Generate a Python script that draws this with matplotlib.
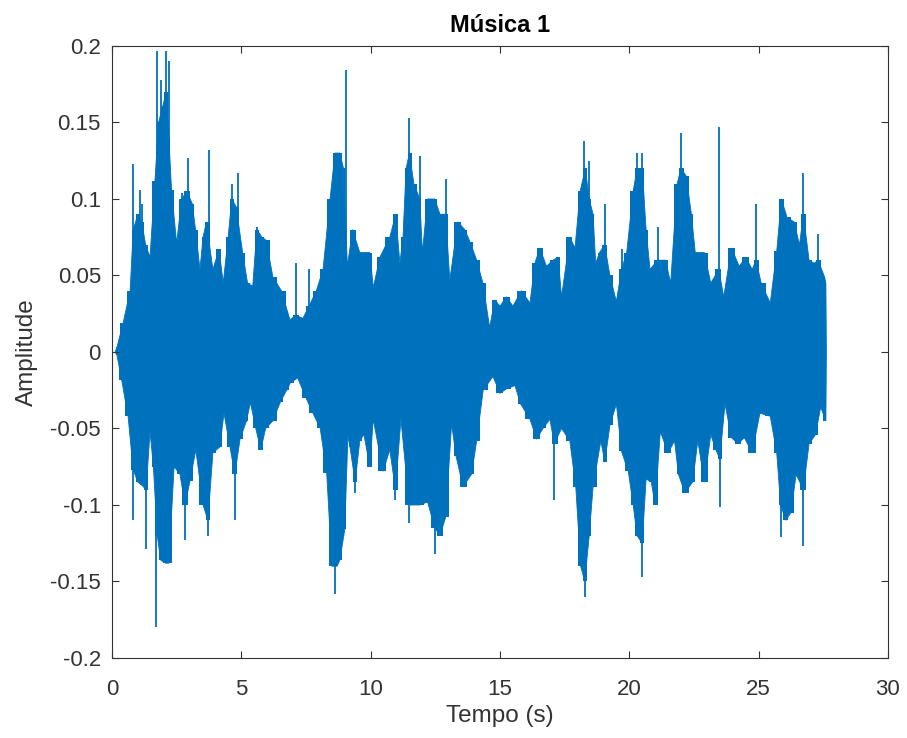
import numpy as np
import matplotlib
matplotlib.use("Agg")
import matplotlib.pyplot as plt

# -----------------------
# Envelope (time in s, amplitude)
# -----------------------
upper_t = [0.12, 0.19, 0.43, 0.7, 0.82, 1.0, 1.15, 1.3, 1.47, 1.66, 1.8, 1.95, 2.1, 2.2, 2.3,
           2.5, 2.69, 2.9, 3.1, 3.23, 3.4, 3.52, 3.65, 3.9, 4.14, 4.3, 4.49, 4.63, 4.8, 5.05,
           5.24, 5.44, 5.6, 5.8, 5.96, 6.22, 6.55, 6.88, 7.1, 7.38, 7.62, 7.9, 8.16, 8.43, 8.62,
           8.81, 8.95, 9.1, 9.3, 9.58, 9.97, 10.1, 10.36, 10.74, 10.97, 11.13, 11.25, 11.37, 11.5,
           11.67, 11.9, 12.0, 12.2, 12.48, 12.68, 12.9, 13.06, 13.37, 13.64, 13.84, 14.1, 14.34,
           14.6, 14.8, 15.0, 15.25, 15.5, 15.83, 16.16, 16.35, 16.54, 16.8, 17.05, 17.25, 17.38,
           17.7, 17.9, 18.1, 18.3, 18.45, 18.6, 18.7, 18.85, 19.05, 19.25, 19.5, 19.7, 19.9,
           20.15, 20.3, 20.5, 20.65, 20.8, 21.1, 21.4, 21.6, 21.85, 22.0, 22.2, 22.4, 22.55,
           22.9, 23.15, 23.46, 23.65, 23.95, 24.25, 24.5, 24.75, 24.9, 25.1, 25.45, 25.7, 25.88,
           26.1, 26.37, 26.58, 26.73, 26.95, 27.15, 27.3, 27.55, 27.6, 27.62]
upper_v = [0.0, 0.003, 0.019, 0.04, 0.08, 0.09, 0.085, 0.07, 0.062, 0.112, 0.15, 0.16, 0.17, 0.14, 0.106,
           0.071, 0.1, 0.105, 0.097, 0.08, 0.054, 0.075, 0.085, 0.054, 0.067, 0.045, 0.075, 0.1, 0.095, 0.065,
           0.045, 0.043, 0.08, 0.075, 0.073, 0.049, 0.04, 0.021, 0.024, 0.022, 0.03, 0.04, 0.054, 0.1, 0.13,
           0.13, 0.12, 0.056, 0.08, 0.065, 0.065, 0.042, 0.062, 0.075, 0.09, 0.058, 0.075, 0.12, 0.13,
           0.11, 0.1, 0.065, 0.1, 0.1, 0.09, 0.09, 0.047, 0.085, 0.08, 0.072, 0.06, 0.045,
           0.016, 0.034, 0.03, 0.036, 0.03, 0.04, 0.032, 0.058, 0.068, 0.056, 0.06, 0.062, 0.036,
           0.075, 0.068, 0.105, 0.12, 0.1, 0.09, 0.058, 0.065, 0.07, 0.05, 0.033, 0.054, 0.065,
           0.105, 0.12, 0.12, 0.08, 0.054, 0.06, 0.06, 0.045, 0.11, 0.12, 0.115, 0.09, 0.065,
           0.065, 0.045, 0.054, 0.036, 0.068, 0.056, 0.062, 0.054, 0.06, 0.045, 0.032, 0.066, 0.1,
           0.088, 0.085, 0.07, 0.09, 0.06, 0.058, 0.06, 0.049, 0.045, 0.0]

lower_t = [0.12, 0.19, 0.37, 0.62, 0.82, 1.0, 1.15, 1.32, 1.47, 1.6, 1.75, 1.88, 2.07, 2.2, 2.4,
           2.63, 2.82, 3.02, 3.24, 3.52, 3.71, 3.9, 4.17, 4.33, 4.56, 4.75, 4.95, 5.2, 5.35, 5.56,
           5.75, 5.94, 6.22, 6.5, 6.75, 6.9, 7.18, 7.5, 7.77, 8.05, 8.3, 8.5, 8.7, 8.81, 9.0,
           9.12, 9.2, 9.4, 9.58, 9.74, 9.97, 10.1, 10.48, 10.74, 10.96, 11.17, 11.49, 11.9, 12.2,
           12.48, 12.68, 12.9, 13.13, 13.3, 13.57, 13.9, 14.1, 14.35, 14.73, 15.0, 15.26, 15.58,
           15.8, 16.16, 16.42, 16.66, 16.93, 17.1, 17.38, 17.7, 17.93, 18.12, 18.28, 18.45, 18.6,
           18.9, 19.05, 19.25, 19.5, 19.7, 19.96, 20.15, 20.3, 20.5, 20.65, 20.85, 21.0, 21.2,
           21.5, 21.75, 21.9, 22.15, 22.45, 22.65, 22.9, 23.15, 23.35, 23.5, 23.7, 23.95, 24.2,
           24.45, 24.75, 25.05, 25.45, 25.7, 25.85, 26.05, 26.25, 26.45, 26.73, 26.95, 27.2,
           27.4, 27.6, 27.62]
lower_v = [0.0, -0.002, -0.018, -0.042, -0.077, -0.085, -0.087, -0.09, -0.052, -0.075, -0.12, -0.136, -0.138, -0.138, -0.075,
           -0.08, -0.1, -0.084, -0.064, -0.1, -0.11, -0.066, -0.062, -0.04, -0.062, -0.08, -0.057, -0.045, -0.033, -0.05,
           -0.064, -0.05, -0.045, -0.033, -0.025, -0.02, -0.017, -0.03, -0.04, -0.05, -0.079, -0.14, -0.14, -0.136, -0.116,
           -0.055, -0.062, -0.085, -0.058, -0.054, -0.075, -0.044, -0.078, -0.064, -0.09, -0.044, -0.1, -0.1, -0.098,
           -0.115, -0.12, -0.108, -0.047, -0.068, -0.088, -0.08, -0.058, -0.025, -0.016, -0.027, -0.024, -0.022,
           -0.034, -0.044, -0.057, -0.05, -0.044, -0.06, -0.05, -0.058, -0.088, -0.14, -0.15, -0.12, -0.088,
           -0.058, -0.072, -0.048, -0.034, -0.065, -0.078, -0.1, -0.12, -0.125, -0.083, -0.085, -0.1, -0.052,
           -0.066, -0.058, -0.08, -0.092, -0.085, -0.058, -0.085, -0.054, -0.064, -0.07, -0.034, -0.056, -0.06,
           -0.056, -0.066, -0.04, -0.042, -0.066, -0.1, -0.11, -0.105, -0.08, -0.09, -0.06, -0.054,
           -0.036, -0.045, 0.0]

# isolated tall peaks sticking out of the body
spike_up_t = [0.82, 1.08, 1.15, 1.74, 1.88, 2.07, 2.2, 2.69, 2.94, 3.75, 4.63, 4.88, 5.6, 7.1, 7.62,
              9.03, 11.5, 11.9, 12.9, 18.25, 18.45, 19.05, 19.7, 20.3, 20.5, 21.1, 22.0, 23.46,
              24.9, 26.73, 27.3]
spike_up_v = [0.123, 0.106, 0.097, 0.197, 0.178, 0.197, 0.19, 0.104, 0.127, 0.132, 0.11, 0.117, 0.082, 0.058, 0.054,
              0.184, 0.153, 0.128, 0.113, 0.138, 0.125, 0.097, 0.067, 0.13, 0.13, 0.082, 0.143, 0.147,
              0.097, 0.117, 0.077]
spike_lo_t = [0.82, 1.32, 1.69, 2.82, 3.71, 4.75, 8.62, 9.4, 10.96, 11.49, 12.48, 17.1, 18.28, 20.5,
              23.5, 25.85, 26.73]
spike_lo_v = [-0.11, -0.129, -0.18, -0.123, -0.12, -0.11, -0.158, -0.092, -0.097, -0.112, -0.132, -0.097, -0.16, -0.147,
              -0.101, -0.121, -0.127]

BLUE = "#0072BD"
GRAY = "#333333"

plt.rcParams["font.family"] = ["Liberation Sans", "DejaVu Sans"]

fig = plt.figure(figsize=(9.07, 7.38), dpi=100)
ax = fig.add_axes([0.1235, 0.1084, 0.8555, 0.8293])

# waveform body: smooth outline plus blocky steps for the ragged edge
poly_t = np.concatenate([upper_t, lower_t[::-1]])
poly_v = np.concatenate([upper_v, lower_v[::-1]])
ax.fill(poly_t, poly_v, color=BLUE, linewidth=0.6, edgecolor=BLUE)
ax.fill_between(upper_t, 0, upper_v, step="mid", color=BLUE, linewidth=0)
ax.fill_between(lower_t, lower_v, 0, step="mid", color=BLUE, linewidth=0)
ax.vlines(spike_up_t, 0, spike_up_v, color=BLUE, linewidth=1.3)
ax.vlines(spike_lo_t, spike_lo_v, 0, color=BLUE, linewidth=1.3)

ax.set_xlim(0, 30)
ax.set_ylim(-0.2, 0.2)
ax.set_xticks([0, 5, 10, 15, 20, 25, 30])
ax.set_yticks([-0.2, -0.15, -0.1, -0.05, 0, 0.05, 0.1, 0.15, 0.2])
ax.set_yticklabels(["-0.2", "-0.15", "-0.1", "-0.05", "0", "0.05", "0.1", "0.15", "0.2"])
ax.tick_params(direction="in", top=True, right=True, length=5, width=0.8,
               labelsize=16, colors=GRAY)
ax.tick_params(axis="x", pad=15)
ax.tick_params(axis="y", pad=8)
for s in ax.spines.values():
    s.set_color(GRAY)
    s.set_linewidth(0.8)

ax.set_title("Música 1", fontsize=17, fontweight="bold", color="black", pad=10)
ax.set_xlabel("Tempo (s)", fontsize=17.5, color=GRAY, labelpad=4)
ax.set_ylabel("Amplitude", fontsize=17.5, color=GRAY, labelpad=9)

fig.savefig("out.png", dpi=100)
